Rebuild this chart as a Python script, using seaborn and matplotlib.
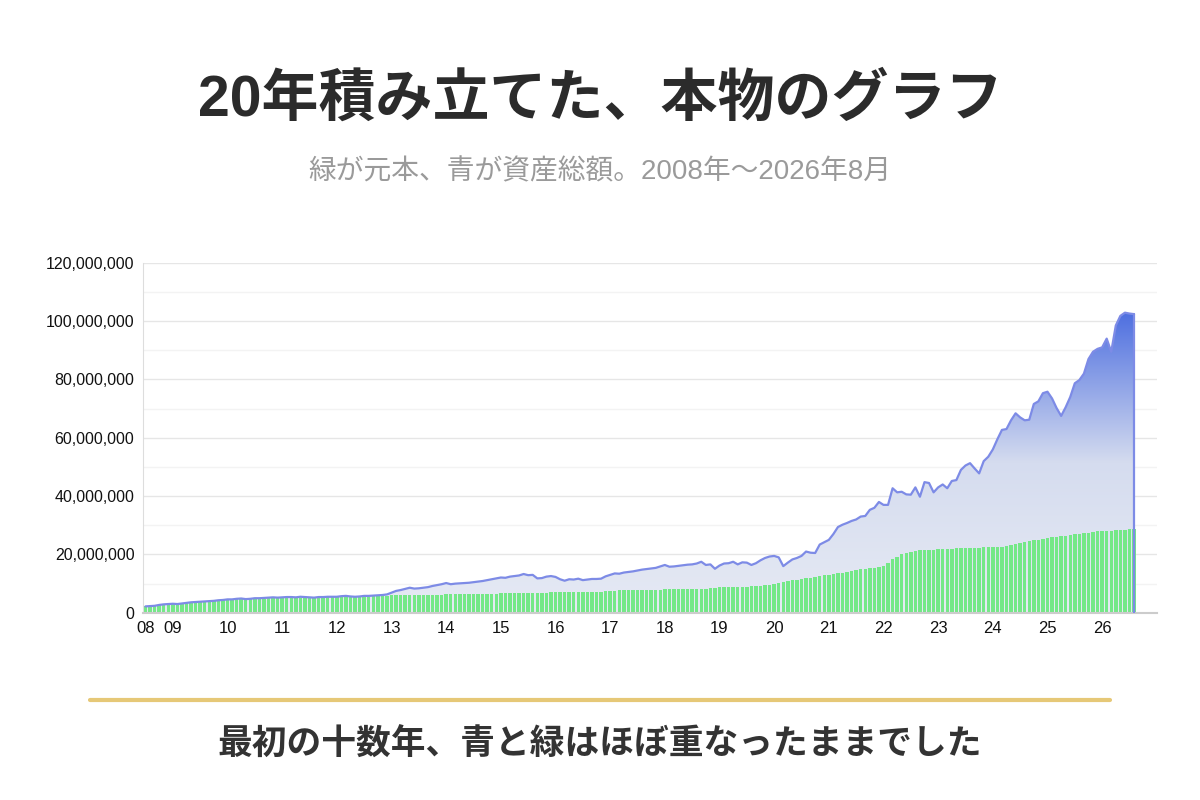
import numpy as np
import pandas as pd
import seaborn as sns
import matplotlib.pyplot as plt
from matplotlib.colors import LinearSegmentedColormap
from matplotlib.ticker import FuncFormatter, MultipleLocator

# 月次データ (百万円), 2008年7月〜2026年8月
principal_by_year = {
    2008: [2.2, 2.4, 2.6, 2.8, 3.0, 3.2],
    2009: [3.3, 3.4, 3.5, 3.6, 3.7, 3.8, 3.9, 4.0, 4.1, 4.2, 4.3, 4.4],
    2010: [4.5, 4.55, 4.6, 4.65, 4.7, 4.75, 4.8, 4.85, 4.9, 4.95, 5.0, 5.05],
    2011: [5.1, 5.1, 5.15, 5.15, 5.2, 5.2, 5.25, 5.25, 5.3, 5.3, 5.35, 5.35],
    2012: [5.4, 5.4, 5.45, 5.45, 5.5, 5.5, 5.55, 5.55, 5.6, 5.6, 5.65, 5.7],
    2013: [6.0, 6.0, 6.0, 6.05, 6.05, 6.05, 6.1, 6.1, 6.1, 6.15, 6.15, 6.2],
    2014: [6.3, 6.3, 6.3, 6.35, 6.35, 6.35, 6.4, 6.4, 6.4, 6.45, 6.45, 6.5],
    2015: [6.7, 6.7, 6.75, 6.75, 6.8, 6.8, 6.85, 6.85, 6.9, 6.9, 6.95, 7.0],
    2016: [7.1, 7.1, 7.1, 7.15, 7.15, 7.2, 7.2, 7.25, 7.25, 7.3, 7.3, 7.35],
    2017: [7.6, 7.6, 7.65, 7.65, 7.7, 7.7, 7.75, 7.75, 7.8, 7.8, 7.85, 7.9],
    2018: [8.1, 8.1, 8.15, 8.15, 8.2, 8.2, 8.25, 8.25, 8.3, 8.3, 8.35, 8.4],
    2019: [8.7, 8.75, 8.8, 8.85, 8.9, 8.95, 9.0, 9.1, 9.2, 9.3, 9.4, 9.5],
    2020: [10.0, 10.3, 10.6, 10.9, 11.2, 11.4, 11.6, 11.8, 12.0, 12.3, 12.6, 12.9],
    2021: [13.1, 13.3, 13.5, 13.7, 14.0, 14.3, 14.6, 14.9, 15.1, 15.3, 15.5, 15.7],
    2022: [16.0, 17.0, 18.3, 19.2, 20.0, 20.5, 20.9, 21.2, 21.4, 21.5, 21.6, 21.7],
    2023: [21.9, 21.9, 22.0, 22.0, 22.1, 22.1, 22.2, 22.2, 22.3, 22.3, 22.4, 22.4],
    2024: [22.5, 22.6, 22.7, 22.9, 23.2, 23.5, 23.9, 24.2, 24.5, 24.8, 25.1, 25.4],
    2025: [25.7, 25.9, 26.1, 26.3, 26.5, 26.7, 26.9, 27.1, 27.3, 27.5, 27.7, 27.9],
    2026: [28.0, 28.1, 28.2, 28.3, 28.4, 28.5, 28.6, 28.6],
}
total_by_year = {
    2008: [2.2, 2.3, 2.4, 2.7, 2.9, 3.0],
    2009: [3.1, 3.0, 3.2, 3.4, 3.6, 3.7, 3.8, 3.9, 4.0, 4.1, 4.3, 4.4],
    2010: [4.6, 4.6, 4.8, 4.9, 4.7, 4.8, 5.0, 5.0, 5.1, 5.2, 5.3, 5.2],
    2011: [5.3, 5.4, 5.4, 5.3, 5.5, 5.4, 5.3, 5.2, 5.4, 5.4, 5.5, 5.5],
    2012: [5.5, 5.7, 5.8, 5.6, 5.5, 5.6, 5.8, 5.8, 5.9, 6.0, 6.1, 6.3],
    2013: [6.9, 7.5, 7.8, 8.2, 8.6, 8.3, 8.4, 8.6, 8.8, 9.2, 9.5, 9.8],
    2014: [10.2, 9.8, 10.0, 10.1, 10.2, 10.3, 10.5, 10.7, 10.9, 11.2, 11.5, 11.8],
    2015: [12.1, 12.0, 12.4, 12.6, 12.8, 13.3, 12.9, 13.0, 11.8, 11.9, 12.4, 12.6],
    2016: [12.3, 11.5, 11.0, 11.5, 11.4, 11.7, 11.2, 11.4, 11.6, 11.6, 11.7, 12.5],
    2017: [13.0, 13.5, 13.4, 13.8, 14.0, 14.2, 14.5, 14.8, 15.0, 15.2, 15.4, 15.9],
    2018: [16.4, 15.8, 15.9, 16.1, 16.3, 16.5, 16.6, 16.9, 17.5, 16.4, 16.6, 15.1],
    2019: [16.2, 16.9, 17.0, 17.5, 16.6, 17.3, 17.2, 16.4, 17.0, 18.0, 18.8, 19.3],
    2020: [19.5, 19.0, 16.0, 17.2, 18.3, 18.8, 19.5, 21.0, 20.6, 20.5, 23.4, 24.2],
    2021: [25.0, 27.0, 29.4, 30.2, 30.8, 31.5, 32.0, 33.0, 33.2, 35.3, 36.0, 38.0],
    2022: [37.0, 37.0, 42.7, 41.3, 41.5, 40.6, 40.5, 43.0, 39.8, 44.8, 44.5, 41.3],
    2023: [43.0, 44.0, 42.7, 45.2, 45.5, 49.0, 50.5, 51.3, 49.5, 47.8, 52.0, 53.5],
    2024: [56.0, 59.5, 62.7, 63.0, 66.0, 68.4, 67.0, 66.0, 66.2, 71.6, 72.5, 75.3],
    2025: [75.8, 73.5, 70.2, 67.5, 70.5, 74.0, 78.7, 79.8, 82.0, 87.0, 89.5, 90.5],
    2026: [91.0, 94.0, 89.5, 98.5, 101.8, 102.9, 102.6, 102.4],
}
tick_labels = ["08", "09", "10", "11", "12", "13", "14", "15", "16", "17",
               "18", "19", "20", "21", "22", "23", "24", "25", "26"]

principal = np.concatenate([principal_by_year[y] for y in sorted(principal_by_year)]) * 1e6
total = np.concatenate([total_by_year[y] for y in sorted(total_by_year)]) * 1e6
df = pd.DataFrame({"m": np.arange(len(total)), "total": total, "principal": principal})

sns.set_style("white")
plt.rcParams['font.family'] = ['Liberation Sans', 'Noto Sans CJK JP', 'DejaVu Sans']

fig = plt.figure(figsize=(12, 8), dpi=100)
ax = fig.add_axes([0.119, 0.234, 0.845, 0.4375])

x = df["m"].values
# グラデーションの面 (総資産額)
poly = ax.fill_between(x, 0, total, color="none", lw=0)
cmap = LinearSegmentedColormap.from_list("g", ["#e6eaf4", "#d5dcef", "#4e6fe0"])
grad = np.linspace(0, 1, 256).reshape(-1, 1)
img = ax.imshow(grad, cmap=cmap, aspect="auto", origin="lower",
                extent=[x[0], x[-1], 0, total.max()], zorder=1)
img.set_clip_path(poly.get_paths()[0], transform=ax.transData)

ax.bar(x, principal, width=0.75, color="#74e887", zorder=2, lw=0)
sns.lineplot(data=df, x="m", y="total", ax=ax, color="#7d8be6", lw=1.6, zorder=3)
ax.plot([x[-1], x[-1]], [0, total[-1]], color="#7d8be6", lw=1.6, zorder=3)

ax.set_xlim(-0.6, len(x) + 4)
ax.set_ylim(0, 120e6)
ax.yaxis.set_major_locator(MultipleLocator(20e6))
ax.yaxis.set_minor_locator(MultipleLocator(10e6))
ax.yaxis.set_major_formatter(FuncFormatter(lambda v, p: f"{int(v):,}"))
ax.grid(True, which="major", axis="y", color="#e6e6e6", lw=1)
ax.grid(True, which="minor", axis="y", color="#f3f3f3", lw=1)
ax.set_axisbelow(True)
ticks = [0] + [6 + 12 * i for i in range(len(tick_labels) - 1)]
ax.set_xticks(ticks)
ax.set_xticklabels(tick_labels)
ax.tick_params(axis="both", labelsize=12, colors="#111", length=0, pad=6)
ax.tick_params(axis="y", labelsize=11.5)
ax.set_xlabel("")
ax.set_ylabel("")
for s in ["top", "right"]:
    ax.spines[s].set_visible(False)
ax.spines["left"].set_color("#dddddd")
ax.spines["bottom"].set_color("#cccccc")
ax.spines["bottom"].set_linewidth(1.5)

fig.text(0.5, 0.875, "20年積み立てた、本物のグラフ", ha="center", va="center",
         fontsize=41, fontweight="bold", color="#2b2b2b")
fig.text(0.5, 0.785, "緑が元本、青が資産総額。2008年〜2026年8月", ha="center", va="center",
         fontsize=20, color="#9a9a9a")
fig.add_artist(plt.Line2D([0.075, 0.925], [0.125, 0.125], color="#e6c877", lw=3))
fig.text(0.5, 0.068, "最初の十数年、青と緑はほぼ重なったままでした", ha="center", va="center",
         fontsize=25, fontweight="bold", color="#333333")

fig.savefig("out.png", dpi=100, facecolor="white")
